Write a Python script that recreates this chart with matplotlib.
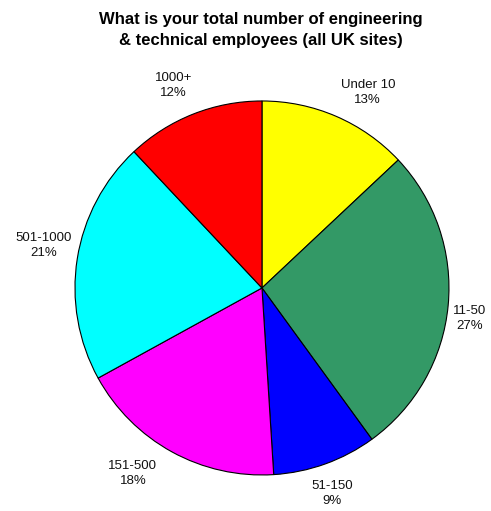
import numpy as np
import matplotlib.pyplot as plt

# employee bands and share of responses (%)
bands = ['Under 10', '11-50', '51-150', '151-500', '501-1000', '1000+']
shares = [13, 27, 9, 18, 21, 12]
colours = ['#FFFF00', '#339966', '#0000FF', '#FF00FF', '#00FFFF', '#FF0000']

# label placement: distance from centre (in radii) and a small angle nudge (deg)
label_dist = [1.19, 1.12, 1.16, 1.21, 1.19, 1.18]
label_nudge = [-5, -3, -1, -6, -2, 2]

plt.rcParams['font.family'] = ['Liberation Sans', 'DejaVu Sans']

fig = plt.figure(figsize=(4.91, 5.11), dpi=100)
ax = fig.add_axes([0.1527, 0.0705, 0.7617, 0.7319])

wedges, _ = ax.pie(shares, colors=colours, startangle=90, counterclock=False,
                   wedgeprops=dict(edgecolor='black', linewidth=0.8))

for w, b, s, d, n in zip(wedges, bands, shares, label_dist, label_nudge):
    ang = np.deg2rad((w.theta1 + w.theta2) / 2 + n)
    ax.text(d * np.cos(ang), d * np.sin(ang), f'{b}\n{s}%', ha='center', va='center',
            fontsize=9.5, color='#111111', linespacing=1.3)

ax.set_xlim(-1, 1)
ax.set_ylim(-1, 1)
ax.set_aspect('auto')

fig.text(0.532, 0.942, 'What is your total number of engineering\n& technical employees (all UK sites)',
         ha='center', va='center', fontsize=12, fontweight='bold', linespacing=1.5)

fig.savefig('out.png', dpi=100)
